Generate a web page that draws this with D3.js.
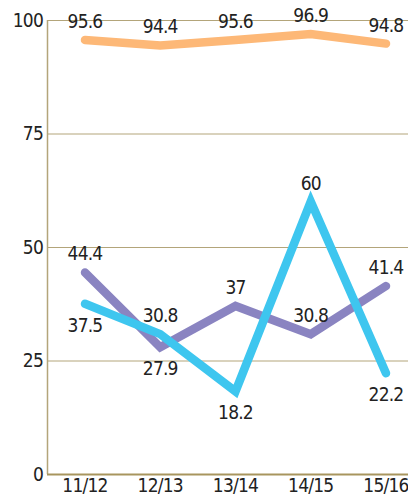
<!DOCTYPE html>
<html lang="en">
<head>
<meta charset="utf-8">
<title>Line chart</title>
<script src="https://d3js.org/d3.v7.min.js"></script>
<style>
	body { margin: 0; background: #fff; }
	text { font-family: "Liberation Sans Narrow", "DejaVu Sans Condensed", "Roboto", sans-serif; fill: #222; letter-spacing: -0.8px; }
</style>
</head>
<body>
<script>
	// data
	var seasons = ["11/12", "12/13", "13/14", "14/15", "15/16"];
	var orangeValues = [95.6, 94.4, 95.6, 96.9, 94.8];
	var purpleValues = [44.4, 27.9, 37, 30.8, 41.4];
	var cyanValues = [37.5, 30.8, 18.2, 60, 22.2];
	var yTicks = [0, 25, 50, 75, 100];
	// where each value label sits: 1 = above the point, -1 = below
	var orangeSides = [1, 1, 1, 1, 1];
	var purpleSides = [1, -1, 1, 1, 1];
	var cyanSides = [-1, 1, -1, 1, -1];

	var svgWidth = 408,
		svgHeight = 496,
		svg = d3.select("body").append("svg")
			.attr("width", svgWidth)
			.attr("height", svgHeight);

	var x = d3.scalePoint()
		.domain(seasons)
		.range([85, 386]);

	var y = d3.scaleLinear()
		.domain([0, 100])
		.range([474, 20]);

	var left = 47, right = 408;

	// gridlines
	svg.append("g")
		.selectAll("line")
		.data(yTicks.filter(function(d) { return d > 0; }))
		.enter().append("line")
		.attr("x1", left)
		.attr("x2", right)
		.attr("y1", function(d) { return y(d) + 0.5; })
		.attr("y2", function(d) { return y(d) + 0.5; })
		.attr("stroke", "#b3a57a")
		.attr("stroke-width", 1);

	// left axis line
	svg.append("line")
		.attr("x1", left + 0.5).attr("x2", left + 0.5)
		.attr("y1", y(100)).attr("y2", y(0))
		.attr("stroke", "#b3a57a")
		.attr("stroke-width", 1.5);

	// bottom axis line
	svg.append("line")
		.attr("x1", left).attr("x2", right)
		.attr("y1", y(0) + 0.5).attr("y2", y(0) + 0.5)
		.attr("stroke", "#a8955e")
		.attr("stroke-width", 2);

	// y tick labels
	svg.append("g")
		.selectAll("text")
		.data(yTicks)
		.enter().append("text")
		.attr("x", 43)
		.attr("y", function(d) { return y(d); })
		.attr("dy", "0.36em")
		.attr("text-anchor", "end")
		.attr("font-size", 19)
		.text(function(d) { return d; });

	// x labels
	svg.append("g")
		.selectAll("text")
		.data(seasons)
		.enter().append("text")
		.attr("x", function(d) { return x(d); })
		.attr("y", 492)
		.attr("text-anchor", "middle")
		.attr("font-size", 19)
		.text(function(d) { return d; });

	var line = d3.line()
		.x(function(d, i) { return x(seasons[i]); })
		.y(function(d) { return y(d); });

	var series = [
		{ values: orangeValues, sides: orangeSides, color: "#fdb877" },
		{ values: purpleValues, sides: purpleSides, color: "#8a84c1" },
		{ values: cyanValues, sides: cyanSides, color: "#3ec6ef" }
	];

	series.forEach(function(s) {
		svg.append("path")
			.datum(s.values)
			.attr("d", line)
			.attr("fill", "none")
			.attr("stroke", s.color)
			.attr("stroke-width", 8.5)
			.attr("stroke-linecap", "round")
			.attr("stroke-linejoin", "miter");
	});

	series.forEach(function(s) {
		svg.append("g")
			.selectAll("text")
			.data(s.values)
			.enter().append("text")
			.attr("x", function(d, i) { return x(seasons[i]); })
			.attr("y", function(d, i) { return s.sides[i] > 0 ? y(d) - 12 : y(d) + 28; })
			.attr("text-anchor", "middle")
			.attr("font-size", 19)
			.text(function(d) { return d; });
	});
</script>
</body>
</html>
